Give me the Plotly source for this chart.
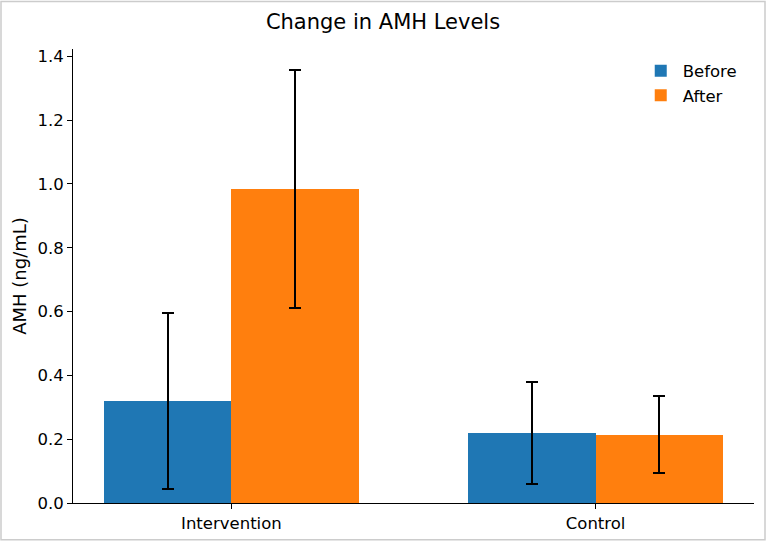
import plotly.graph_objects as go

categories = ["Intervention", "Control"]
before_vals = [0.321, 0.220]
before_err = [0.276, 0.159]
after_vals = [0.984, 0.214]
after_err = [0.372, 0.120]
y_ticks = [0.0, 0.2, 0.4, 0.6, 0.8, 1.0, 1.2, 1.4]

xpos = list(range(len(categories)))
w = 0.35

fig = go.Figure()
fig.add_trace(go.Bar(
    x=[p - w / 2 for p in xpos], y=before_vals, width=w, name="Before",
    marker=dict(color="#1f77b4", line=dict(width=0)),
    error_y=dict(type="data", array=before_err, color="black", thickness=2, width=6),
))
fig.add_trace(go.Bar(
    x=[p + w / 2 for p in xpos], y=after_vals, width=w, name="After",
    marker=dict(color="#ff7f0e", line=dict(width=0)),
    error_y=dict(type="data", array=after_err, color="black", thickness=2, width=6),
))

font = "DejaVu Sans"
fig.update_layout(
    width=766, height=545,
    margin=dict(l=73, r=12, t=49, b=38),
    paper_bgcolor="white", plot_bgcolor="white",
    font=dict(family=font, size=16.5, color="black"),
    title=dict(text="Change in AMH Levels", x=0.5, xanchor="center", y=1 - 22 / 545, yanchor="middle",
               font=dict(size=21, family=font, color="black")),
    barmode="overlay",
    bargap=0,
    showlegend=True,
    legend=dict(x=0.982, y=0.99, xanchor="right", yanchor="top", bgcolor="rgba(0,0,0,0)",
                font=dict(size=16.5, family=font), itemwidth=34, tracegroupgap=0),
    xaxis=dict(range=[-0.435, 1.435], tickvals=xpos, ticktext=categories,
               showline=True, linecolor="black", linewidth=1, ticks="outside",
               ticklen=5, tickcolor="black", showgrid=False, zeroline=False,
               tickfont=dict(size=16.5)),
    yaxis=dict(range=[0, 1.423], tickvals=y_ticks, ticktext=[f"{v:.1f}" for v in y_ticks],
               showline=True, linecolor="black", linewidth=1, ticks="outside",
               ticklen=5, tickcolor="black", showgrid=False, zeroline=False,
               title=dict(text="AMH (ng/mL)", font=dict(size=18), standoff=6),
               tickfont=dict(size=16.5)),
    shapes=[dict(type="rect", xref="paper", yref="paper", x0=-72/681, x1=1 + 11/681,
                 y0=-37/458, y1=1 + 48/458, line=dict(color="#cccccc", width=1.5),
                 fillcolor="rgba(0,0,0,0)", layer="below")],
)

fig.write_html("out.html", config={"displayModeBar": False},
               post_script="document.body.style.margin='0';document.body.style.overflow='hidden';")
